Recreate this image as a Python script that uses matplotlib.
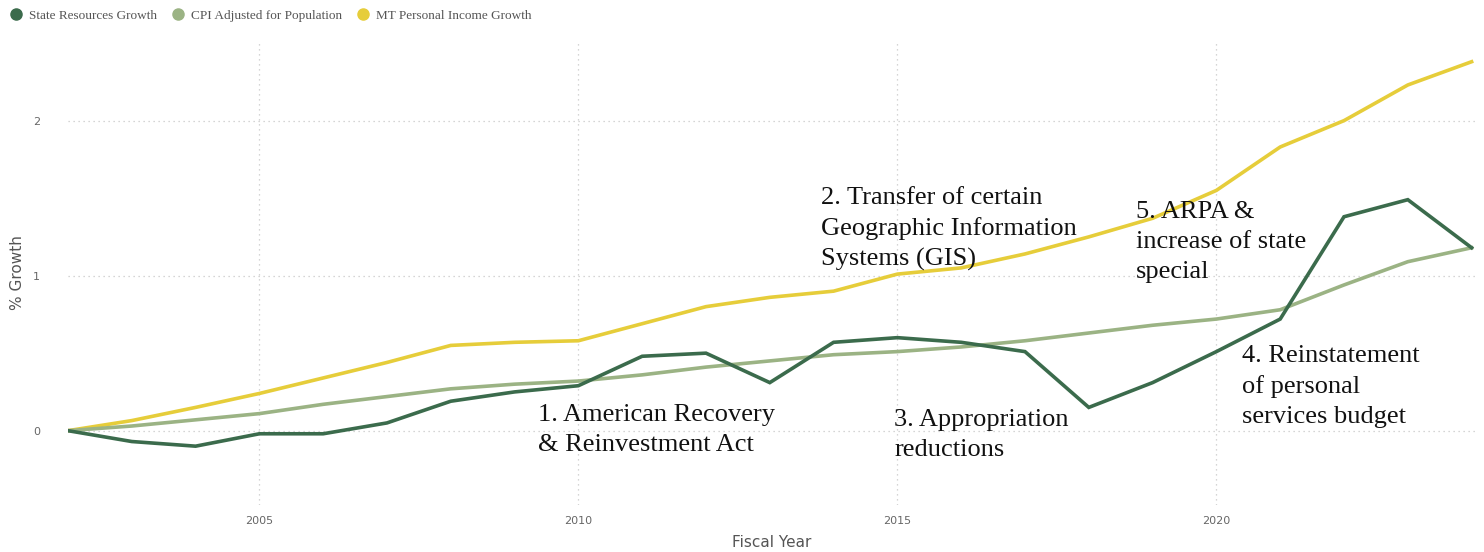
import matplotlib.pyplot as plt
from matplotlib.lines import Line2D

years = list(range(2002, 2025))
state_resources = [0.00, -0.07, -0.10, -0.02, -0.02, 0.05, 0.19, 0.25, 0.29, 0.48, 0.50, 0.31,
                   0.57, 0.60, 0.57, 0.51, 0.15, 0.31, 0.51, 0.72, 1.38, 1.49, 1.18]
cpi_pop = [0.00, 0.03, 0.07, 0.11, 0.17, 0.22, 0.27, 0.30, 0.32, 0.36, 0.41, 0.45,
           0.49, 0.51, 0.54, 0.58, 0.63, 0.68, 0.72, 0.78, 0.94, 1.09, 1.18]
mt_income = [0.00, 0.065, 0.15, 0.24, 0.34, 0.44, 0.55, 0.57, 0.58, 0.69, 0.80, 0.86,
             0.90, 1.01, 1.05, 1.14, 1.25, 1.37, 1.55, 1.83, 2.00, 2.23, 2.38]

series_names = ["State Resources Growth", "CPI Adjusted for Population", "MT Personal Income Growth"]
colors = ["#3b6b4c", "#9bb384", "#e6cd3a"]

notes = [
    (2009.37, 0.17, "1. American Recovery\n& Reinvestment Act"),
    (2013.8, 1.57, "2. Transfer of certain\nGeographic Information\nSystems (GIS)"),
    (2014.95, 0.14, "3. Appropriation\nreductions"),
    (2020.4, 0.55, "4. Reinstatement\nof personal\nservices budget"),
    (2018.74, 1.48, "5. ARPA &\nincrease of state\nspecial"),
]

fig = plt.figure(figsize=(14.84, 5.52), dpi=100)
ax = fig.add_axes([0.0458, 0.085, 0.948, 0.8425])

for vals, c in zip([mt_income, cpi_pop, state_resources], [colors[2], colors[1], colors[0]]):
    ax.plot(years, vals, color=c, lw=2.6, solid_joinstyle="miter")

ax.set_xlim(2002, 2024.05)
ax.set_ylim(-0.48, 2.52)
ax.set_xticks([2005, 2010, 2015, 2020])
ax.set_yticks([0, 1, 2])
ax.grid(True, linestyle=(0, (1, 3)), color="#c8c8c8", lw=0.9)
for s in ax.spines.values():
    s.set_visible(False)
ax.tick_params(axis="x", length=0, labelsize=8, labelcolor="#666666", pad=8)
ax.tick_params(axis="y", length=0, labelsize=8, labelcolor="#666666", pad=20)
ax.set_xlabel("Fiscal Year", fontsize=11, color="#555555", labelpad=6)
ax.set_ylabel("% Growth", fontsize=11, color="#555555", labelpad=6)

for x, y, t in notes:
    ax.text(x, y, t, fontsize=19, family="Liberation Serif", color="#111111",
            va="top", ha="left", linespacing=1.45)

handles = [Line2D([], [], marker="o", ls="", color=c, markersize=8) for c in colors]
fig.legend(handles, series_names, loc="center left", bbox_to_anchor=(-0.002, 0.972), ncol=3,
           frameon=False, handletextpad=0.0, columnspacing=0.6, borderaxespad=0.0,
           prop={"family": "Liberation Serif", "size": 9.5}, labelcolor="#555555")

fig.savefig("out.png", dpi=100)
